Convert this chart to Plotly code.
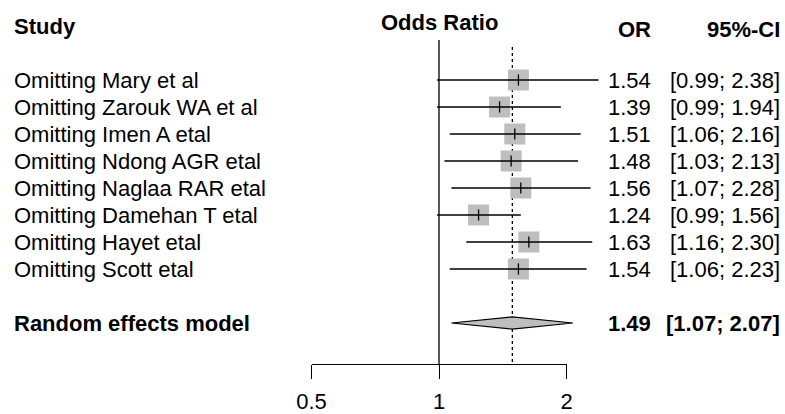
import numpy as np
import plotly.graph_objects as go

# ---- data ----
studies = ["Omitting Mary et al", "Omitting Zarouk WA et al", "Omitting Imen A etal",
           "Omitting Ndong AGR etal", "Omitting Naglaa RAR etal", "Omitting Damehan T etal",
           "Omitting Hayet etal", "Omitting Scott etal"]
or_vals = [1.54, 1.39, 1.51, 1.48, 1.56, 1.24, 1.63, 1.54]
ci_low = [0.99, 0.99, 1.06, 1.03, 1.07, 0.99, 1.16, 1.06]
ci_high = [2.38, 1.94, 2.16, 2.13, 2.28, 1.56, 2.30, 2.23]
pooled_label = "Random effects model"
pooled_or = 1.49
pooled_low = 1.07
pooled_high = 2.07
null_value = 1
tick_values = [0.5, 1, 2]
tick_labels = ["0.5", "1", "2"]

# ---- layout helpers ----
W, H = 785, 414
FONT = "Liberation Sans, Arial, Helvetica, sans-serif"
FS = 22
PX_ONE = 439.0        # pixel of OR = 1
PX_PER_LOG2 = 127.5   # pixels per doubling
ROW0_PX = 80.0
ROW_STEP = 27.0
AXIS_PX = 364.0

def log10_at(px):
    return (px - PX_ONE) / PX_PER_LOG2 * np.log10(2)

def yidx_at(px):
    return (px - ROW0_PX) / ROW_STEP

def py(px):
    return 1 - px / H

n = len(studies)
rows = list(range(n))
pooled_row = n + 1

fig = go.Figure()

# dotted line at pooled estimate
fig.add_trace(go.Scatter(x=[pooled_or, pooled_or], y=[yidx_at(47), yidx_at(AXIS_PX)],
                         mode="lines", line=dict(color="black", width=1.3, dash="dot"),
                         showlegend=False, hoverinfo="skip"))
# solid line at 1
fig.add_trace(go.Scatter(x=[null_value, null_value], y=[yidx_at(40), yidx_at(AXIS_PX)],
                         mode="lines", line=dict(color="black", width=1.3),
                         showlegend=False, hoverinfo="skip"))

# squares
fig.add_trace(go.Scatter(x=or_vals, y=rows, mode="markers",
                         marker=dict(symbol="square", size=21, color="#bebebe",
                                     line=dict(width=0)),
                         showlegend=False, hoverinfo="skip"))
# CI lines
xs, ys = [], []
for i in rows:
    xs += [ci_low[i], ci_high[i], None]
    ys += [i, i, None]
fig.add_trace(go.Scatter(x=xs, y=ys, mode="lines", line=dict(color="black", width=1.3),
                         showlegend=False, hoverinfo="skip"))
# estimate ticks
fig.add_trace(go.Scatter(x=or_vals, y=rows, mode="markers",
                         marker=dict(symbol="line-ns", size=8, color="black",
                                     line=dict(color="black", width=1.3)),
                         showlegend=False, hoverinfo="skip"))
# diamond
h = 6.2 / ROW_STEP
fig.add_trace(go.Scatter(x=[pooled_low, pooled_or, pooled_high, pooled_or, pooled_low],
                         y=[pooled_row, pooled_row - h, pooled_row, pooled_row + h, pooled_row],
                         mode="lines", fill="toself", fillcolor="#bebebe",
                         line=dict(color="black", width=1.2),
                         showlegend=False, hoverinfo="skip"))
# dummy trace for the visible axis
fig.add_trace(go.Scatter(x=[tick_values[0], tick_values[-1]], y=[None, None],
                         xaxis="x2", yaxis="y", mode="markers",
                         showlegend=False, hoverinfo="skip"))

# ---- text ----
ann = []
def txt(text, x, y, xanchor, xref="paper", yref="paper", bold=False):
    ann.append(dict(text=f"<b>{text}</b>" if bold else text, x=x, y=y, xref=xref, yref=yref,
                    xanchor=xanchor, yanchor="middle", showarrow=False,
                    font=dict(family=FONT, size=FS, color="black")))

txt("Study", 12 / W, py(27), "left", bold=True)
txt("Odds Ratio", np.log10(null_value), py(22), "center", xref="x", bold=True)
txt("OR", 653 / W, py(29.5), "right", bold=True)
txt("95%-CI", 782 / W, py(29.5), "right", bold=True)

for i in rows:
    txt(studies[i], 12 / W, i, "left", yref="y")
    txt(f"{or_vals[i]:.2f}", 653 / W, i, "right", yref="y")
    txt(f"[{ci_low[i]:.2f}; {ci_high[i]:.2f}]", 782 / W, i, "right", yref="y")

txt(pooled_label, 12 / W, pooled_row, "left", yref="y", bold=True)
txt(f"{pooled_or:.2f}", 653 / W, pooled_row, "right", yref="y", bold=True)
txt(f"[{pooled_low:.2f}; {pooled_high:.2f}]", 782 / W, pooled_row, "right", yref="y", bold=True)

fig.update_layout(
    width=W, height=H,
    margin=dict(l=0, r=0, t=0, b=0, pad=0, autoexpand=False),
    paper_bgcolor="white", plot_bgcolor="rgba(0,0,0,0)",
    annotations=ann,
    xaxis=dict(type="log", range=[log10_at(0), log10_at(W)], domain=[0, 1],
               visible=False, fixedrange=True, automargin=False),
    xaxis2=dict(type="log", range=[np.log10(tick_values[0]), np.log10(tick_values[-1])],
                domain=[(PX_ONE - PX_PER_LOG2) / W, (PX_ONE + PX_PER_LOG2) / W],
                anchor="free", position=py(AXIS_PX),
                showline=True, linecolor="black", linewidth=1.3,
                ticks="outside", ticklen=14, tickwidth=1.3, tickcolor="black",
                tickvals=tick_values, ticktext=tick_labels,
                tickfont=dict(family=FONT, size=FS, color="black"),
                ticklabelstandoff=3, automargin=False,
                showgrid=False, zeroline=False, fixedrange=True),
    yaxis=dict(range=[yidx_at(H), yidx_at(0)], domain=[0, 1], visible=False,
               fixedrange=True, automargin=False),
)

fig.write_html("out.html", config={"displayModeBar": False},
               post_script="document.body.style.margin='0';document.body.style.overflow='hidden';")
